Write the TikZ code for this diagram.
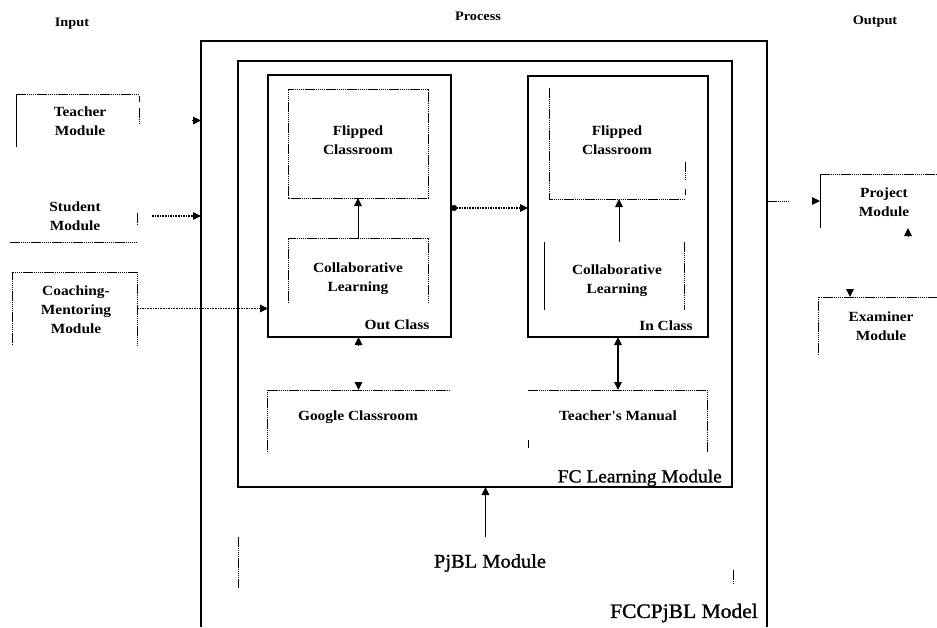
\documentclass[tikz,border=0pt]{standalone}
\usepackage{fontspec}
\setmainfont{Liberation Serif}
\newfontfamily\modfont{Liberation Serif Bold}[FakeStretch=1.1]
\newfontfamily\capfont{Liberation Serif}[FakeStretch=1.05, FakeBold=1.2]
\usetikzlibrary{arrows.meta,calc}

\tikzset{
  frame/.style={rectangle, inner sep=0pt, outer sep=0pt, draw=none},
  heavy/.style={line width=1.9pt},
  medium/.style={line width=1.6pt},
  dotline/.style={line width=1pt, dash pattern=on 1.5pt off 0.6pt},
  thinline/.style={line width=0.9pt},
  txt/.style={font=\modfont\fontsize{14}{19}\selectfont, align=center, inner sep=0pt},
  headtxt/.style={font=\modfont\fontsize{13}{16}\selectfont, inner sep=0pt},
  bigtxt/.style={font=\capfont\fontsize{18.5}{22}\selectfont, align=center, inner sep=0pt},
  tip/.style={-{Triangle[length=8pt,width=7.5pt]}},
  flow/.style={line width=1pt, tip},
  dotflow/.style={line width=1.1pt, dash pattern=on 1.6pt off 1pt, tip},
}

\begin{document}
\begin{tikzpicture}[x=1pt,y=-1pt]
\useasboundingbox (0,0) rectangle (937,627);

% column headings
\node[headtxt] (hin)  at (72,24)  {Input};
\node[headtxt] (hpro) at (478,16) {Process};
\node[headtxt] (hout) at (875,22) {Output};

% ---------- containers ----------
\node[frame, minimum width=566pt, minimum height=586pt] (model) at (484,334) {};
\draw[heavy] (model.south west) -- (model.north west) -- (model.north east) -- (model.south east);
\node[bigtxt, font=\capfont\fontsize{20.5}{24}\selectfont, anchor=east] (modell) at (758,613) {FCCPjBL Model};

\node[frame, minimum width=494pt, minimum height=426pt] (fclm) at (485,274) {};
\draw[medium] (fclm.south west) rectangle (fclm.north east);
\node[bigtxt, anchor=east] (fcll) at (722,478) {FC Learning Module};

\node[frame, minimum width=183pt, minimum height=262pt] (oc) at (359.5,206) {};
\draw[medium] (oc.south west) rectangle (oc.north east);
\node[txt] (ocl) at (397,325) {Out Class};

\node[frame, minimum width=180pt, minimum height=261pt] (ic) at (618,206.5) {};
\draw[medium] (ic.south west) rectangle (ic.north east);
\node[txt] (icl) at (666,326) {In Class};

% ---------- out-class boxes ----------
\node[frame, minimum width=140pt, minimum height=109pt] (f1) at (358,143.5) {};
\draw[dotline] (f1.south west) rectangle (f1.north east);
\node[txt] (f1t) at (358,140) {Flipped\\Classroom};

\node[frame, minimum width=140pt, minimum height=65pt] (c1) at (358,270.5) {};
\draw[dotline] (c1.south west) -- (c1.north west) -- (c1.north east) -- (c1.south east);
\node[txt] (c1t) at (358,279) {Collaborative\\Learning};

% ---------- in-class boxes ----------
\node[frame, minimum width=136pt, minimum height=111pt] (f2) at (617,143.5) {};
\draw[dotline] (f2.north west) -- (f2.south west) -- (f2.south east);
\draw[dotline] ($(f2.north east)+(0,74)$) -- ($(f2.north east)+(0,92)$);
\draw[dotline] ($(f2.north east)+(0,101)$) -- ($(f2.north east)+(0,107)$);
\node[txt] (f2t) at (617,140) {Flipped\\Classroom};

\node[frame, minimum width=140pt, minimum height=68pt] (c2) at (614,276) {};
\draw[thinline] (c2.north west) -- (c2.south west);
\draw[dotline] (c2.north east) -- (c2.south east);
\node[txt] (c2t) at (617,281) {Collaborative\\Learning};

% ---------- resources ----------
\node[frame, minimum width=183pt, minimum height=62pt] (gc) at (358.5,421) {};
\draw[dotline] (gc.south west) -- (gc.north west) -- (gc.north east);
\node[txt] (gct) at (358,417) {Google Classroom};

\node[frame, minimum width=179pt, minimum height=62pt] (tmn) at (617.5,421) {};
\draw[dotline] (tmn.north west) -- (tmn.north east) -- (tmn.south east);
\draw[dotline] ($(tmn.south west)+(0,-12)$) -- ($(tmn.south west)+(0,-4)$);
\node[txt] (tmnt) at (618,416) {Teacher's Manual};

\node[frame, minimum width=495pt, minimum height=51pt] (pj) at (485.5,562.5) {};
\draw[dotline] (pj.north west) -- (pj.south west);
\draw[dotline] ($(pj.north east)+(0,33)$) -- ($(pj.north east)+(0,46)$);
\node[bigtxt, font=\capfont\fontsize{19.5}{23}\selectfont] (pjt) at (490,563) {PjBL Module};

% ---------- input modules ----------
\node[frame, minimum width=123pt, minimum height=53pt] (tm) at (77.5,120.5) {};
\draw[dotline] (tm.north west) -- (tm.north east);
\draw[thinline] (tm.north west) -- (tm.south west);
\draw[dotline] ($(tm.north east)+(0,2)$) -- ($(tm.north east)+(0,8)$);
\draw[dotline] ($(tm.north east)+(0,14)$) -- ($(tm.north east)+(0,30)$);
\node[txt] (tmt) at (80,121) {Teacher\\Module};

\node[frame, minimum width=127pt, minimum height=52pt] (sm) at (73.5,216) {};
\draw[dotline] (sm.south west) -- (sm.south east);
\draw[dotline] ($(sm.south east)+(0,-29)$) -- ($(sm.south east)+(0,-17)$);
\node[txt] (smt) at (75,216) {Student\\Module};

\node[frame, minimum width=125pt, minimum height=73pt] (cm) at (74.5,308.5) {};
\draw[dotline] (cm.south west) -- (cm.north west) -- (cm.north east) -- (cm.south east);
\node[txt] (cmt) at (76,310) {Coaching-\\Mentoring\\Module};

% ---------- output modules ----------
\node[frame, minimum width=128pt, minimum height=54pt] (pm) at (884,201) {};
\draw[dotline] (pm.north west) -- (pm.north east);
\draw[thinline] (pm.north west) -- (pm.south west);
\node[txt] (pmt) at (884,202) {Project\\Module};

\node[frame, minimum width=126pt, minimum height=58pt] (em) at (881,326) {};
\draw[dotline] (em.south west) -- (em.north west) -- (em.north east);
\node[txt] (emt) at (881,326) {Examiner\\Module};

% ---------- connectors ----------
\coordinate (pxu) at (908,0);
\coordinate (pxd) at (850,0);

\draw[flow, shorten <=53pt] (tm.east) -- (tm.east -| model.west);
\draw[dotflow, shorten <=15pt] (sm.east) -- (sm.east -| model.west);
\draw[dotflow] (cm.east) -- (cm.east -| oc.west);

\draw[flow] (c1.north) -- (f1.south);
\draw[flow] ([xshift=5pt]c2.north) -- ([xshift=5pt]c2.north |- f2.south);

\draw[line width=1.1pt, dash pattern=on 1.6pt off 1pt,
      {Circle[length=6pt]}-{Triangle[length=8pt,width=7.5pt]}]
  ([yshift=-2pt]oc.east) -- ([yshift=-2pt]oc.east -| ic.west);

\draw[flow, shorten <=45pt] (gc.north) -- (gc.north |- oc.south);
\draw[flow, shorten <=45pt] (gc.north |- oc.south) -- (gc.north);

\draw[line width=1.1pt, {Triangle[length=8pt,width=7.5pt]}-{Triangle[length=8pt,width=7.5pt]}]
  (ic.south) -- (ic.south |- tmn.north);

\draw[flow] (pj.north) -- (pj.north |- fclm.south);

\draw[dotline] (pm.west -| model.east) -- ++(22,0);
\draw[flow, shorten <=45pt] (pm.west -| model.east) -- (pm.west);

\draw[flow, shorten <=61pt] (em.north -| pxu) -- (pm.south -| pxu);
\draw[flow, shorten <=61pt] (pm.south -| pxd) -- (em.north -| pxd);
\end{tikzpicture}
\end{document}
